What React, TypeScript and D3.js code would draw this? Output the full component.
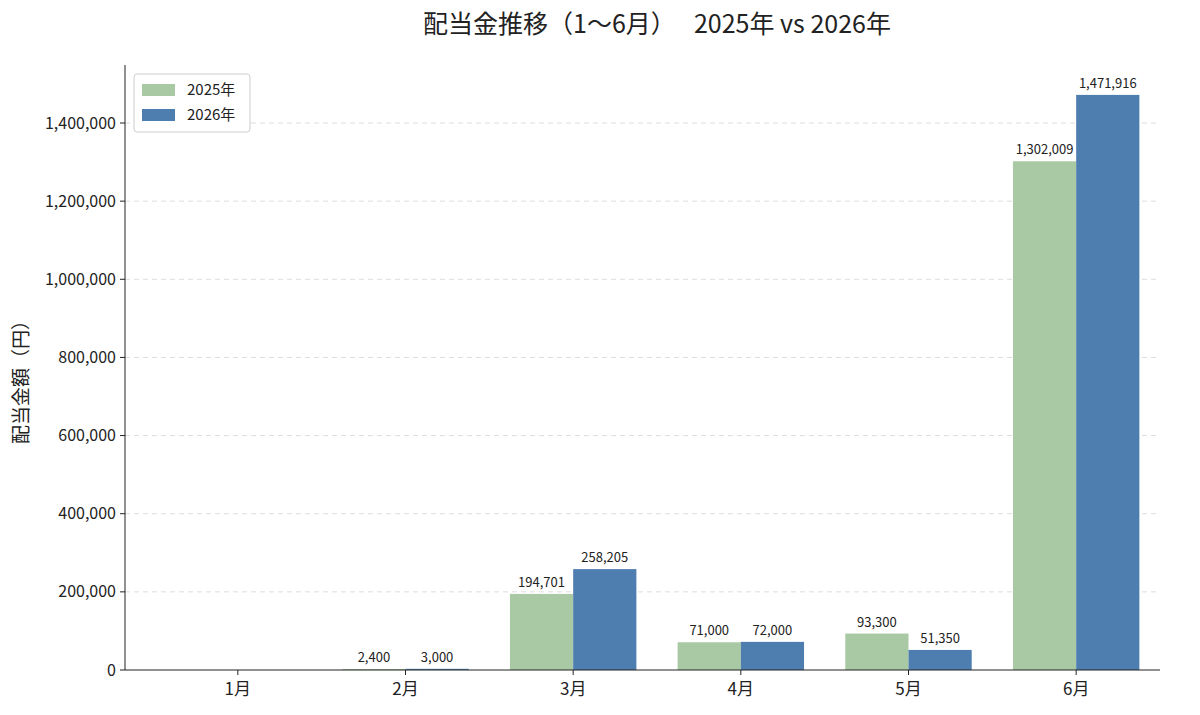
import * as d3 from "d3";

const months = ["1月", "2月", "3月", "4月", "5月", "6月"];
const series = ["2025年", "2026年"];
const values2025 = [0, 2400, 194701, 71000, 93300, 1302009];
const values2026 = [0, 3000, 258205, 72000, 51350, 1471916];
const colors = ["#a8c9a3", "#4e7db0"];
const yTicks = [0, 200000, 400000, 600000, 800000, 1000000, 1200000, 1400000];

const W = 1200, H = 715;
const mL = 125, mR = 40, mT = 65, mB = 45;
const font = "'Noto Sans CJK JP', 'Noto Sans', sans-serif";

export default function App() {
  const x = d3.scaleBand<string>().domain(months).range([154, W - mR]).paddingInner(0).paddingOuter(0);
  const y = d3.scaleLinear().domain([0, 1471916 * 1.052]).range([H - mB, mT]);
  const bw = x.bandwidth() * 0.377;
  const fmt = d3.format(",");
  const data = [values2025, values2026];

  return (
    <svg width={W} height={H} style={{ position: "absolute", left: 0, top: 0, background: "white", fontFamily: font }}>
      <text x={657} y={33} textAnchor="middle" fontSize={25} fill="#222">配当金推移（1〜6月）　 2025年 vs 2026年</text>
      {yTicks.slice(1).map(t => (
        <line key={t} x1={mL} x2={W - mR} y1={y(t)} y2={y(t)} stroke="#ddd" strokeDasharray="5,4" />
      ))}
      {data.map((vals, si) => (
        <g key={si}>
          {vals.map((v, i) => {
            const cx = x(months[i])! + x.bandwidth() / 2;
            const bx = cx + (si === 0 ? -bw : 0);
            return (
              <g key={i}>
                <rect x={bx} y={y(v)} width={bw} height={y(0) - y(v)} fill={colors[si]} />
                {v > 0 && (
                  <text x={bx + bw / 2} y={y(v) - 7} textAnchor="middle" fontSize={13} fill="#222">{fmt(v)}</text>
                )}
              </g>
            );
          })}
        </g>
      ))}
      <line x1={mL} x2={mL} y1={mT} y2={H - mB} stroke="#222" />
      <line x1={mL} x2={W - mR} y1={H - mB} y2={H - mB} stroke="#222" />
      {yTicks.map(t => (
        <g key={t} transform={`translate(${mL},${y(t)})`}>
          <line x2={-5} stroke="#222" />
          <text x={-9} dy="0.35em" textAnchor="end" fontSize={16} fill="#222">{fmt(t)}</text>
        </g>
      ))}
      {months.map(m => (
        <g key={m} transform={`translate(${x(m)! + x.bandwidth() / 2},${H - mB})`}>
          <line y2={5} stroke="#222" />
          <text y={25} textAnchor="middle" fontSize={17} fill="#222">{m}</text>
        </g>
      ))}
      <text transform={`translate(28,${(mT + H - mB) / 2 + 10}) rotate(-90)`} textAnchor="middle" fontSize={19} fill="#222">配当金額（円）</text>
      <g transform="translate(134,74)">
        <rect width={116} height={58} rx={3} fill="white" stroke="#ccc" />
        {series.map((s, i) => (
          <g key={s} transform={`translate(8,${10 + i * 25})`}>
            <rect width={33} height={12} fill={colors[i]} />
            <text x={45} y={11} fontSize={15} fill="#222">{s}</text>
          </g>
        ))}
      </g>
    </svg>
  );
}
